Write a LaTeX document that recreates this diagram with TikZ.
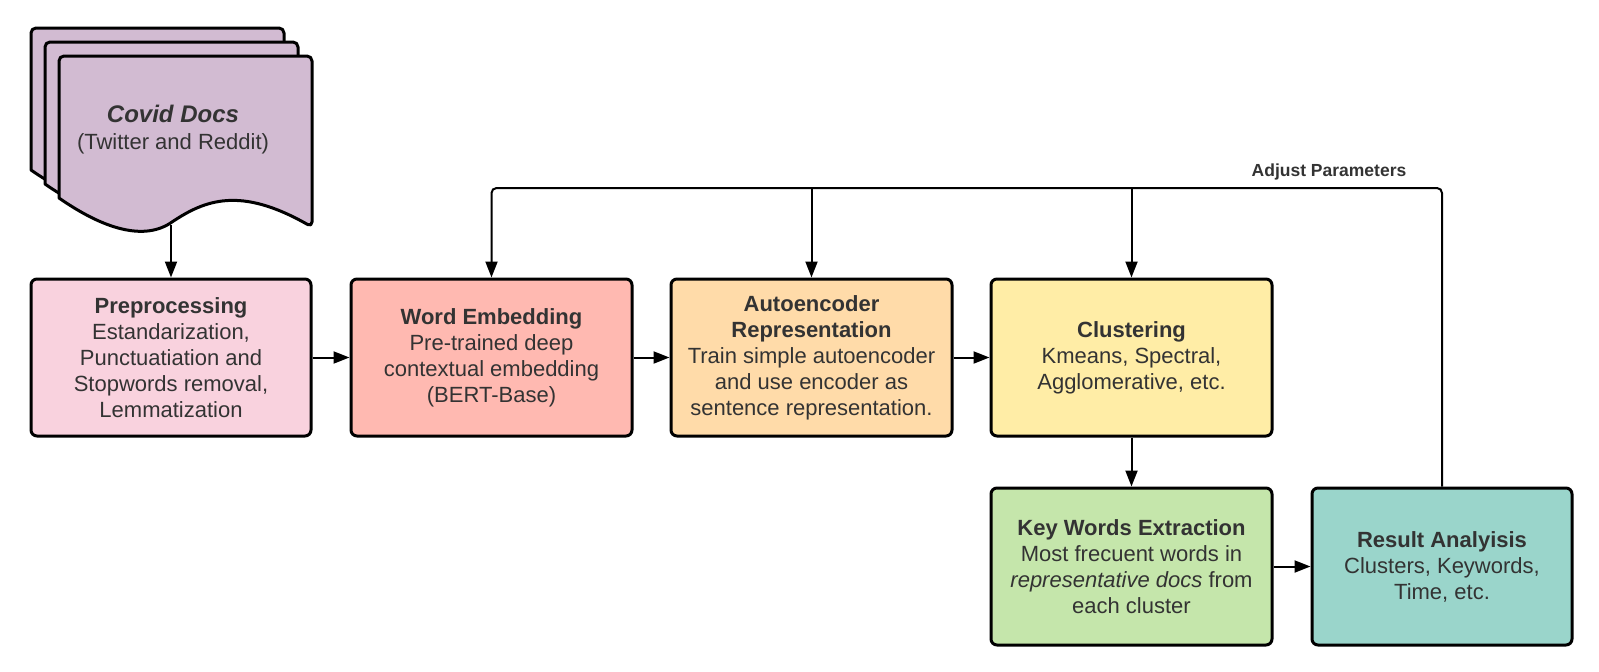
\documentclass[tikz,border=0pt]{standalone}
\usepackage{fontspec}
\setmainfont{Liberation Sans}
\usetikzlibrary{arrows.meta,calc}
\definecolor{txt}{RGB}{51,51,51}
\definecolor{docc}{RGB}{210,187,210}
\definecolor{prec}{RGB}{249,210,222}
\definecolor{wec}{RGB}{255,185,177}
\definecolor{aec}{RGB}{255,219,169}
\definecolor{clc}{RGB}{255,237,166}
\definecolor{kwc}{RGB}{197,230,171}
\definecolor{resc}{RGB}{154,213,203}
\tikzset{
  stagebox/.style={draw=black,line width=3pt,rounded corners=6pt,inner sep=0pt,
    minimum height=157pt,text=txt,align=center,
    font=\fontsize{22}{26}\selectfont},
  docshape/.style={draw=black,line width=3pt,fill=docc,line join=round},
  conn/.style={draw=black,line width=2pt,-{Triangle[length=16pt,width=12pt]}},
  lbl/.style={text=txt,font=\fontsize{17.5}{20}\selectfont\bfseries,inner sep=0pt}
}
\begin{document}
\begin{tikzpicture}[x=1pt,y=-1pt]
\useasboundingbox (0,0) rectangle (1599,672);
% stacked documents
\foreach \d in {28,14,0}{
  \begin{scope}[shift={(-\d,-\d-2)}]
  \draw[docshape] (59,200) [rounded corners=5pt] -- (59,58) -- (312,58) -- (312,229) [sharp corners]
     .. controls (240,188) and (205,202) .. (172,224)
     .. controls (145,243) and (105,232) .. (59,200) -- cycle;
  \end{scope}
}
\node[text=txt,inner sep=0pt,font=\fontsize{24}{28}\selectfont\bfseries\itshape] (doctitle) at (173,114) {Covid Docs};
\node[text=txt,inner sep=0pt,font=\fontsize{22}{26}\selectfont] (docsub) at (173,144) {(Twitter and Reddit)};
\coordinate (docbot) at (171,225);
% stage boxes
\node[stagebox,fill=prec,minimum width=280pt] (pre) at (171,357.5)
  {\textbf{Preprocessing}\\Estandarization,\\Punctuatiation and\\Stopwords removal,\\Lemmatization};
\node[stagebox,fill=wec,minimum width=281pt] (we) at (491.5,357.5)
  {\textbf{Word Embedding}\\Pre-trained deep\\contextual embedding\\(BERT-Base)};
\node[stagebox,fill=aec,minimum width=281pt] (ae) at (811.5,357.5)
  {\textbf{Autoencoder}\\\textbf{Representation}\\Train simple autoencoder\\and use encoder as\\sentence representation.};
\node[stagebox,fill=clc,minimum width=281pt] (cl) at (1131.5,357.5)
  {\textbf{Clustering}\\Kmeans, Spectral,\\Agglomerative, etc.};
\node[stagebox,fill=kwc,minimum width=281pt] (kw) at (1131.5,566.5)
  {\textbf{Key Words Extraction}\\Most frecuent words in\\\textit{representative docs} from\\each cluster};
\node[stagebox,fill=resc,minimum width=260pt] (res) at (1442,566.5)
  {\textbf{Result Analyisis}\\Clusters, Keywords,\\Time, etc.};
% connectors
\draw[conn] (docbot) -- (pre.north);
\draw[conn] (pre.east) -- (we.west);
\draw[conn] (we.east) -- (ae.west);
\draw[conn] (ae.east) -- (cl.west);
\draw[conn] (cl.south) -- (kw.north);
\draw[conn] (kw.east) -- (res.west);
\coordinate (topline) at (0,188);
\draw[conn,rounded corners=5pt] (res.north) |- (topline -| we.north) -- (we.north);
\draw[conn] (topline -| ae.north) -- (ae.north);
\draw[conn] (topline -| cl.north) -- (cl.north);
\node[lbl] (adj) at (1329,172) {Adjust Parameters};
\end{tikzpicture}
\end{document}
